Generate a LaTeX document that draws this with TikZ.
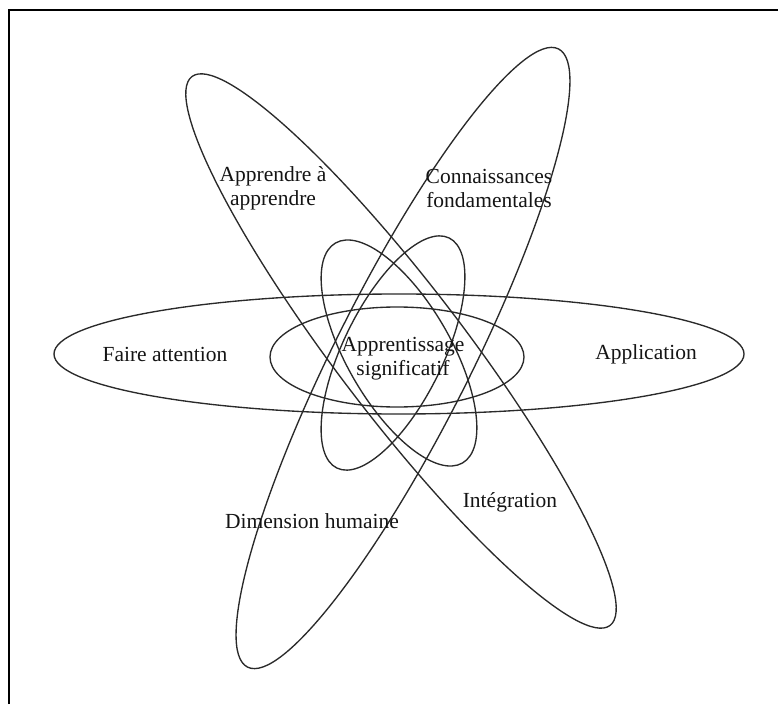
\documentclass[tikz,border=0pt]{standalone}
\usepackage{fontspec}
\setmainfont{Liberation Serif}
\usepackage{xcolor}
\definecolor{ringGray}{HTML}{2A2A2A}
\definecolor{textDark}{HTML}{141414}
\usepackage{tikz}
\usetikzlibrary{positioning}

\tikzset{
  ring/.style={draw=ringGray, line width=1.35pt},
  tag/.style={font=\fontsize{21.5}{24}\selectfont, text=textDark, align=center, inner sep=0pt}
}

\begin{document}
\begin{tikzpicture}[x=1pt, y=1pt]
\useasboundingbox (-399,-350) rectangle (379,354);

% frame (top and left edges only)
\draw[line width=1.6pt, black] (-390,-350) -- (-390,344) -- (379,344);

% outer ellipses
\draw[ring] (0,0) ellipse [x radius=345, y radius=60];
\draw[ring, rotate around={-52.7:(2,3)}] (2,3) ellipse [x radius=345, y radius=64];
\draw[ring, rotate around={63.3:(4,-4)}] (4,-4) ellipse [x radius=346, y radius=68];

% inner ellipses
\draw[ring, rotate around={-60:(0,1)}] (0,1) ellipse [x radius=127, y radius=52];
\draw[ring, rotate around={64:(-6,1)}] (-6,1) ellipse [x radius=128, y radius=50];
\draw[ring] (-2,-3) ellipse [x radius=127, y radius=50];

% labels
\node[tag] (centre) at (4,-5) {Apprentissage\\significatif};
\node[tag] (attention) at (-234,0) {Faire attention};
\node[tag] (application) at (247,0) {Application};
\node[tag] (apprendre) at (-126,166) {Apprendre à\\apprendre};
\node[tag] (connaissances) at (90,166) {Connaissances\\fondamentales};
\node[tag] (integration) at (111,-148) {Intégration};
\node[tag] (humaine) at (-87,-167) {Dimension humaine};
\end{tikzpicture}
\end{document}
